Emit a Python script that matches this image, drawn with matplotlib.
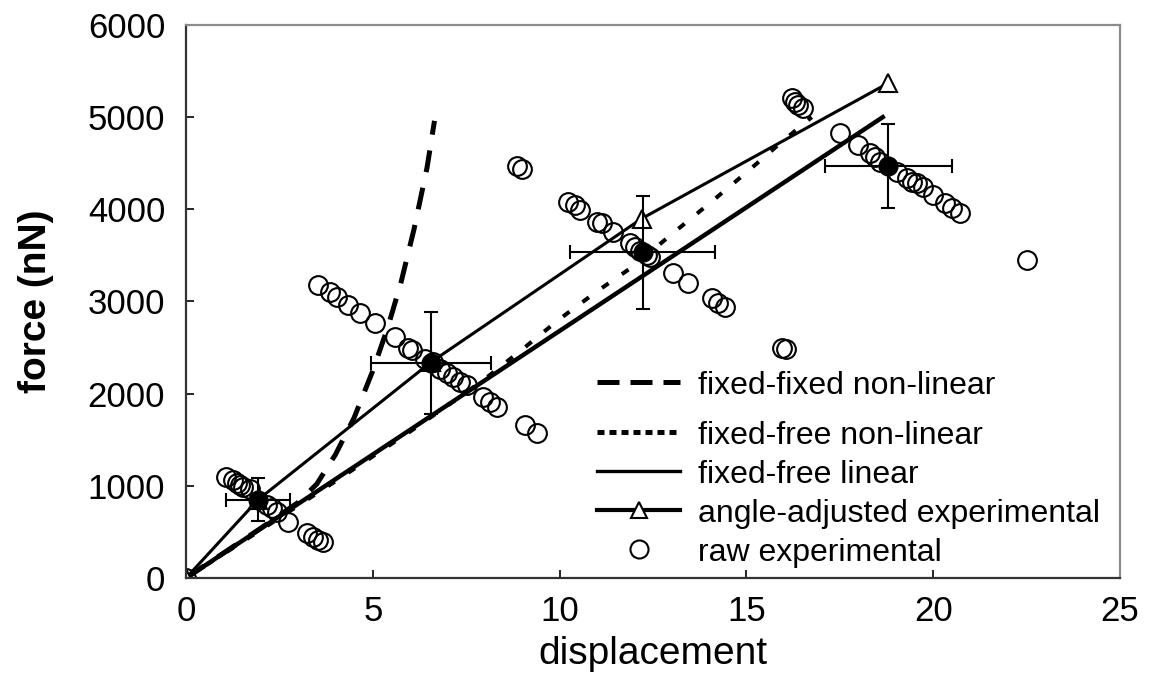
import matplotlib
matplotlib.use('Agg')
import matplotlib.pyplot as plt
from matplotlib.lines import Line2D
import numpy as np

plt.rcParams['font.family'] = ['Liberation Sans', 'DejaVu Sans']

# fixed-fixed non-linear model
ff_d = [0, 1, 2, 3, 3.5, 4, 4.5, 5, 5.4, 5.75, 6.1, 6.45, 6.65]
ff_f = [0, 270, 540, 820, 1020, 1340, 1740, 2250, 2720, 3200, 3780, 4450, 4960]

# fixed-free non-linear model
fn_d = [0, 2, 4, 6, 7, 8, 9, 10, 11, 12, 13, 14, 15, 16, 16.75]
fn_f = [0, 520, 1050, 1590, 1870, 2160, 2480, 2810, 3110, 3390, 3730, 4060, 4400, 4750, 5000]

# fixed-free linear model
fl_d = [0, 18.65]
fl_f = [0, 5000]

# angle-adjusted experimental
aa_d = [0, 1.93, 6.55, 12.2, 18.8]
aa_f = [0, 850, 2340, 3900, 5370]

# mean of raw experimental with error bars
mean_d = [1.93, 6.55, 12.22, 18.8]
mean_f = [850, 2330, 3535, 4470]
mean_derr = [0.85, 1.6, 1.94, 1.7]
mean_ferr = [230, 553, 613, 461]

# raw experimental
raw_d = [0, 1.07, 1.26, 1.37, 1.45, 1.53, 1.7, 2.17, 2.3, 2.44, 2.73, 3.24, 3.4, 3.53, 3.67,
         3.53, 3.85, 4.04, 4.34, 4.66, 5.06, 5.59, 5.94, 6.05, 6.4, 6.6, 6.8, 6.99, 7.15, 7.33,
         7.52, 7.95, 8.14, 8.32, 9.07, 9.4,
         8.85, 8.98, 10.22, 10.41, 10.55, 11.0, 11.13, 11.43, 11.88, 12.02, 12.15, 12.34, 12.42,
         13.04, 13.44, 14.08, 14.24, 14.43, 15.95, 16.05,
         16.22, 16.3, 16.38, 16.52, 17.5, 17.99, 18.31, 18.44, 18.58, 19.03, 19.3, 19.43, 19.57,
         19.73, 20.0, 20.32, 20.5, 20.72, 22.51]
raw_f = [0, 1095, 1063, 1030, 1009, 987, 970, 792, 759, 716, 607, 488, 445, 412, 390,
         3178, 3102, 3048, 2961, 2874, 2766, 2614, 2495, 2473, 2380, 2340, 2270, 2223, 2180, 2126,
         2093, 1963, 1909, 1855, 1660, 1573,
         4470, 4440, 4078, 4045, 3991, 3861, 3850, 3753, 3633, 3590, 3550, 3503, 3481,
         3308, 3200, 3037, 2983, 2939, 2500, 2490,
         5206, 5163, 5130, 5098, 4826, 4696, 4609, 4566, 4512, 4404, 4338, 4295, 4284,
         4241, 4154, 4067, 4013, 3959, 3449]

labels = ['fixed-fixed non-linear', 'fixed-free non-linear', 'fixed-free linear',
          'angle-adjusted experimental', 'raw experimental']

fig = plt.figure(figsize=(11.52, 6.9), dpi=100)
ax = fig.add_axes([0.1615, 0.1623, 0.8107, 0.8015])

ax.plot(ff_d, ff_f, color='black', lw=3.6, dashes=(4.4, 3.2))
ax.plot(fn_d, fn_f, color='black', lw=2.9, dashes=(2, 4))
ax.plot(fl_d, fl_f, color='black', lw=3.2)
ax.plot(aa_d, aa_f, color='black', lw=2.2, marker='^', markersize=13,
        markerfacecolor='white', markeredgecolor='black', markeredgewidth=1.5)
ax.plot(raw_d, raw_f, linestyle='none', marker='o', markersize=13.5,
        markerfacecolor='none', markeredgecolor='black', markeredgewidth=1.5)
ax.errorbar(mean_d, mean_f, xerr=mean_derr, yerr=mean_ferr, fmt='o', color='black',
            markersize=13.5, elinewidth=1.5, capsize=4.7, capthick=1.5)

# legend swatches as drawn in the original
handles = [
    Line2D([], [], color='black', lw=3.6, dashes=(4.4, 2.2)),
    Line2D([], [], color='black', lw=3.6, dashes=(1.4, 1.0)),
    Line2D([], [], color='black', lw=2.4),
    Line2D([], [], color='black', lw=3.0, marker='^', markersize=12,
           markerfacecolor='white', markeredgecolor='black', markeredgewidth=1.5),
    Line2D([], [], linestyle='none', marker='o', markersize=13,
           markerfacecolor='none', markeredgecolor='black', markeredgewidth=1.5),
]

ax.set_xlim(0, 25)
ax.set_ylim(0, 6000)
ax.set_xticks([0, 5, 10, 15, 20, 25])
ax.set_yticks([0, 1000, 2000, 3000, 4000, 5000, 6000])
ax.tick_params(direction='in', length=6, width=1.2, labelsize=25, colors='black')
ax.tick_params(axis='y', pad=15)
ax.tick_params(axis='x', pad=12)

for side in ['left', 'bottom']:
    ax.spines[side].set_color('#333333')
    ax.spines[side].set_linewidth(1.6)
for side in ['top', 'right']:
    ax.spines[side].set_color('#8c8c8c')
    ax.spines[side].set_linewidth(1.6)

ax.set_xlabel('displacement', fontsize=28, labelpad=6)
ax.set_ylabel('force (nN)', fontsize=28, fontweight='bold', labelpad=24)

# the first legend row sits a little apart from the rest in the original
leg_kw = dict(loc='upper left', frameon=False, fontsize=23, handlelength=2.6,
              handletextpad=0.56, labelspacing=0.28, borderpad=0, borderaxespad=0)
leg1 = ax.legend(handles[:1], labels[:1], bbox_to_anchor=(0.44, 0.375), **leg_kw)
ax.add_artist(leg1)
ax.legend(handles[1:], labels[1:], bbox_to_anchor=(0.44, 0.2845), **leg_kw)

fig.savefig('out.png', dpi=100)
